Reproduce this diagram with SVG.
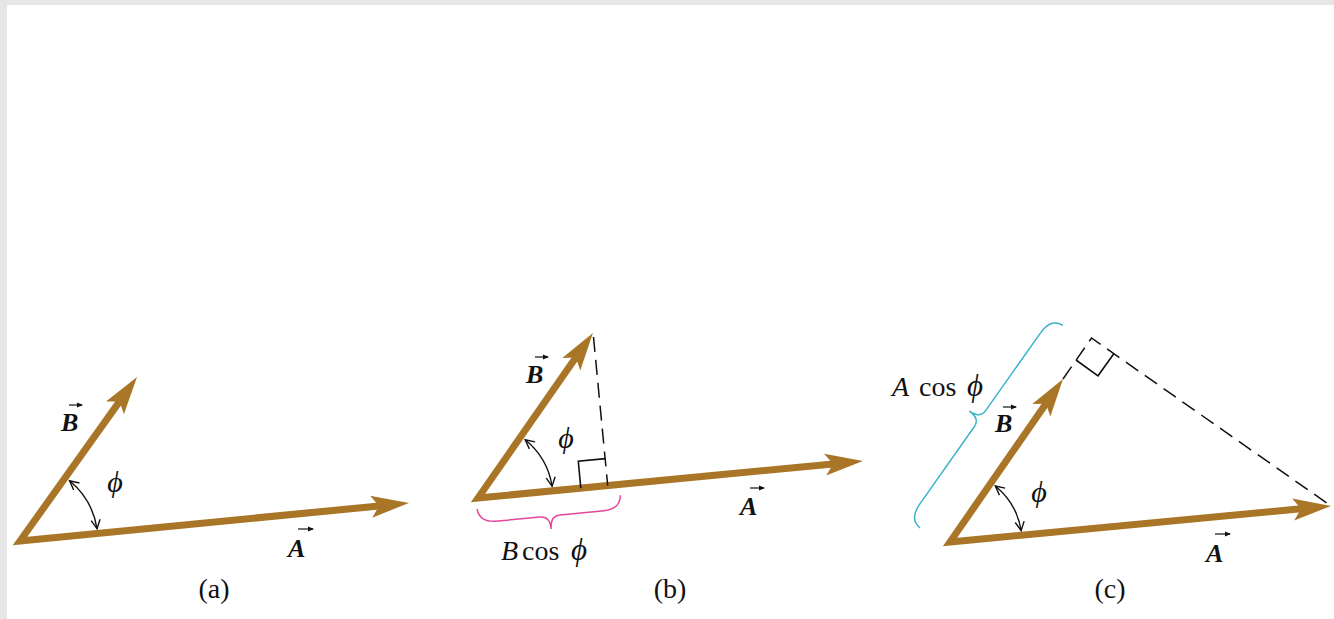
<svg xmlns="http://www.w3.org/2000/svg" width="1334" height="619" viewBox="0 0 1334 619">
<style>
.vec{fill:none;stroke:#a97628;stroke-width:7;stroke-linejoin:miter;marker-start:url(#head);marker-end:url(#head)}
.arc{fill:none;stroke:#111;stroke-width:1.4;marker-start:url(#vhead);marker-end:url(#vhead)}
.dash{fill:none;stroke:#111;stroke-width:1.5;stroke-dasharray:15 8}
.sq{fill:none;stroke:#111;stroke-width:1.6}
.ov{fill:none;stroke:#111;stroke-width:1.2;marker-end:url(#small)}
text{font-family:"Liberation Serif","Times New Roman","DejaVu Serif",serif;fill:#111}
.vl{font-weight:bold;font-style:italic;font-size:26px}
.ph{font-style:italic;font-size:30px}
.rm{font-size:28px}
.it{font-style:italic;font-size:28px}
.itp{font-style:italic;font-size:31px}
.cap{font-size:28px;text-anchor:middle}
</style>
<defs>
<marker id="head" markerUnits="userSpaceOnUse" orient="auto-start-reverse" refX="0" refY="0" markerWidth="1" markerHeight="1" overflow="visible">
<path d="M30,0 L-8,-11 L0,0 L-8,11 Z" fill="#a97628"/>
</marker>
<marker id="vhead" markerUnits="userSpaceOnUse" orient="auto-start-reverse" refX="0" refY="0" markerWidth="1" markerHeight="1" overflow="visible">
<path d="M-9,-4.5 L0,0 L-9,4.5" fill="none" stroke="#111" stroke-width="1.4"/>
</marker>
<marker id="small" markerUnits="userSpaceOnUse" orient="auto" refX="0" refY="0" markerWidth="1" markerHeight="1" overflow="visible">
<path d="M-5,-2.6 L1,0 L-5,2.6 Z" fill="#111"/>
</marker>
</defs>
<rect x="0" y="0" width="1334" height="619" fill="#ffffff"/>
<rect x="0" y="0" width="1334" height="5" fill="#e6e6e6"/>
<rect x="0" y="0" width="7" height="619" fill="#e6e6e6"/>

<g id="connectors">
<!-- panel a -->
<path class="vec" d="M119.6,401.4 L20,541 L379.1,505.9"/>
<path class="arc" d="M97.04,528.8 A78,78 0 0 0 69.6,480.8"/>
<!-- panel b -->
<path class="vec" d="M575.8,357.6 L478,498 L833.1,463.9"/>
<path class="arc" d="M552.1,486.3 A75,75 0 0 0 525.2,439.7"/>
<path class="dash" d="M593.5,337 L607.7,485.5"/>
<path class="sq" d="M580.8,488.1 L578.3,461.2 L605.2,458.6"/>
<path d="M0,0 C1,9 6,14 20,14 L62,14 C68,14 72,18 72,27 C72,18 76,14 82,14 L124,14 C138,14 143,9 144,0" fill="none" stroke="#e5489b" stroke-width="1.5" transform="translate(477,509) rotate(-5.5)"/>
<!-- panel c -->
<path class="vec" d="M1045.9,403.7 L950,542 L1301.1,508.8"/>
<path class="arc" d="M1021.1,530.7 A72,72 0 0 0 995.3,486"/>
<path class="dash" d="M1063,379 L1091.5,338 L1331,506"/>
<path class="sq" d="M1076,360 L1098,375.8 L1114,353.5"/>
<path d="M0,0 C1,9 6,14 20,14 L114,14 C120,14 124,18 124,27 C124,18 128,14 134,14 L228,14 C242,14 247,9 248,0" fill="none" stroke="#3bb3c9" stroke-width="1.5" transform="translate(920,528) rotate(-54.8) scale(1,-1)"/>
<!-- over-arrows -->
<path class="ov" d="M69,405 L82,405"/>
<path class="ov" d="M298,529 L313,529"/>
<path class="ov" d="M535,357 L548,357"/>
<path class="ov" d="M750,488 L764,488"/>
<path class="ov" d="M1003,407 L1016,407"/>
<path class="ov" d="M1215,534 L1230,534"/>
</g>

<g id="panel-a">
<text class="vl" x="61" y="431">B</text>
<text class="vl" x="288" y="557">A</text>
<text class="ph" x="115" y="492" text-anchor="middle">ϕ</text>
<text class="cap" x="214" y="598">(a)</text>
</g>

<g id="panel-b">
<text class="vl" x="526" y="383">B</text>
<text class="vl" x="740" y="515">A</text>
<text class="ph" x="566" y="448" text-anchor="middle">ϕ</text>
<g id="label-bcos">
<text class="it" x="501" y="560">B</text>
<text class="rm" x="522" y="560">cos</text>
<text class="itp" x="571" y="560">ϕ</text>
</g>
<text class="cap" x="670" y="598">(b)</text>
</g>

<g id="panel-c">
<text class="vl" x="995" y="432">B</text>
<text class="vl" x="1206" y="562">A</text>
<text class="ph" x="1039" y="502" text-anchor="middle">ϕ</text>
<g id="label-acos">
<text class="it" x="892" y="396">A</text>
<text class="rm" x="919" y="396">cos</text>
<text class="itp" x="967" y="396">ϕ</text>
</g>
<text class="cap" x="1110" y="598">(c)</text>
</g>
</svg>
